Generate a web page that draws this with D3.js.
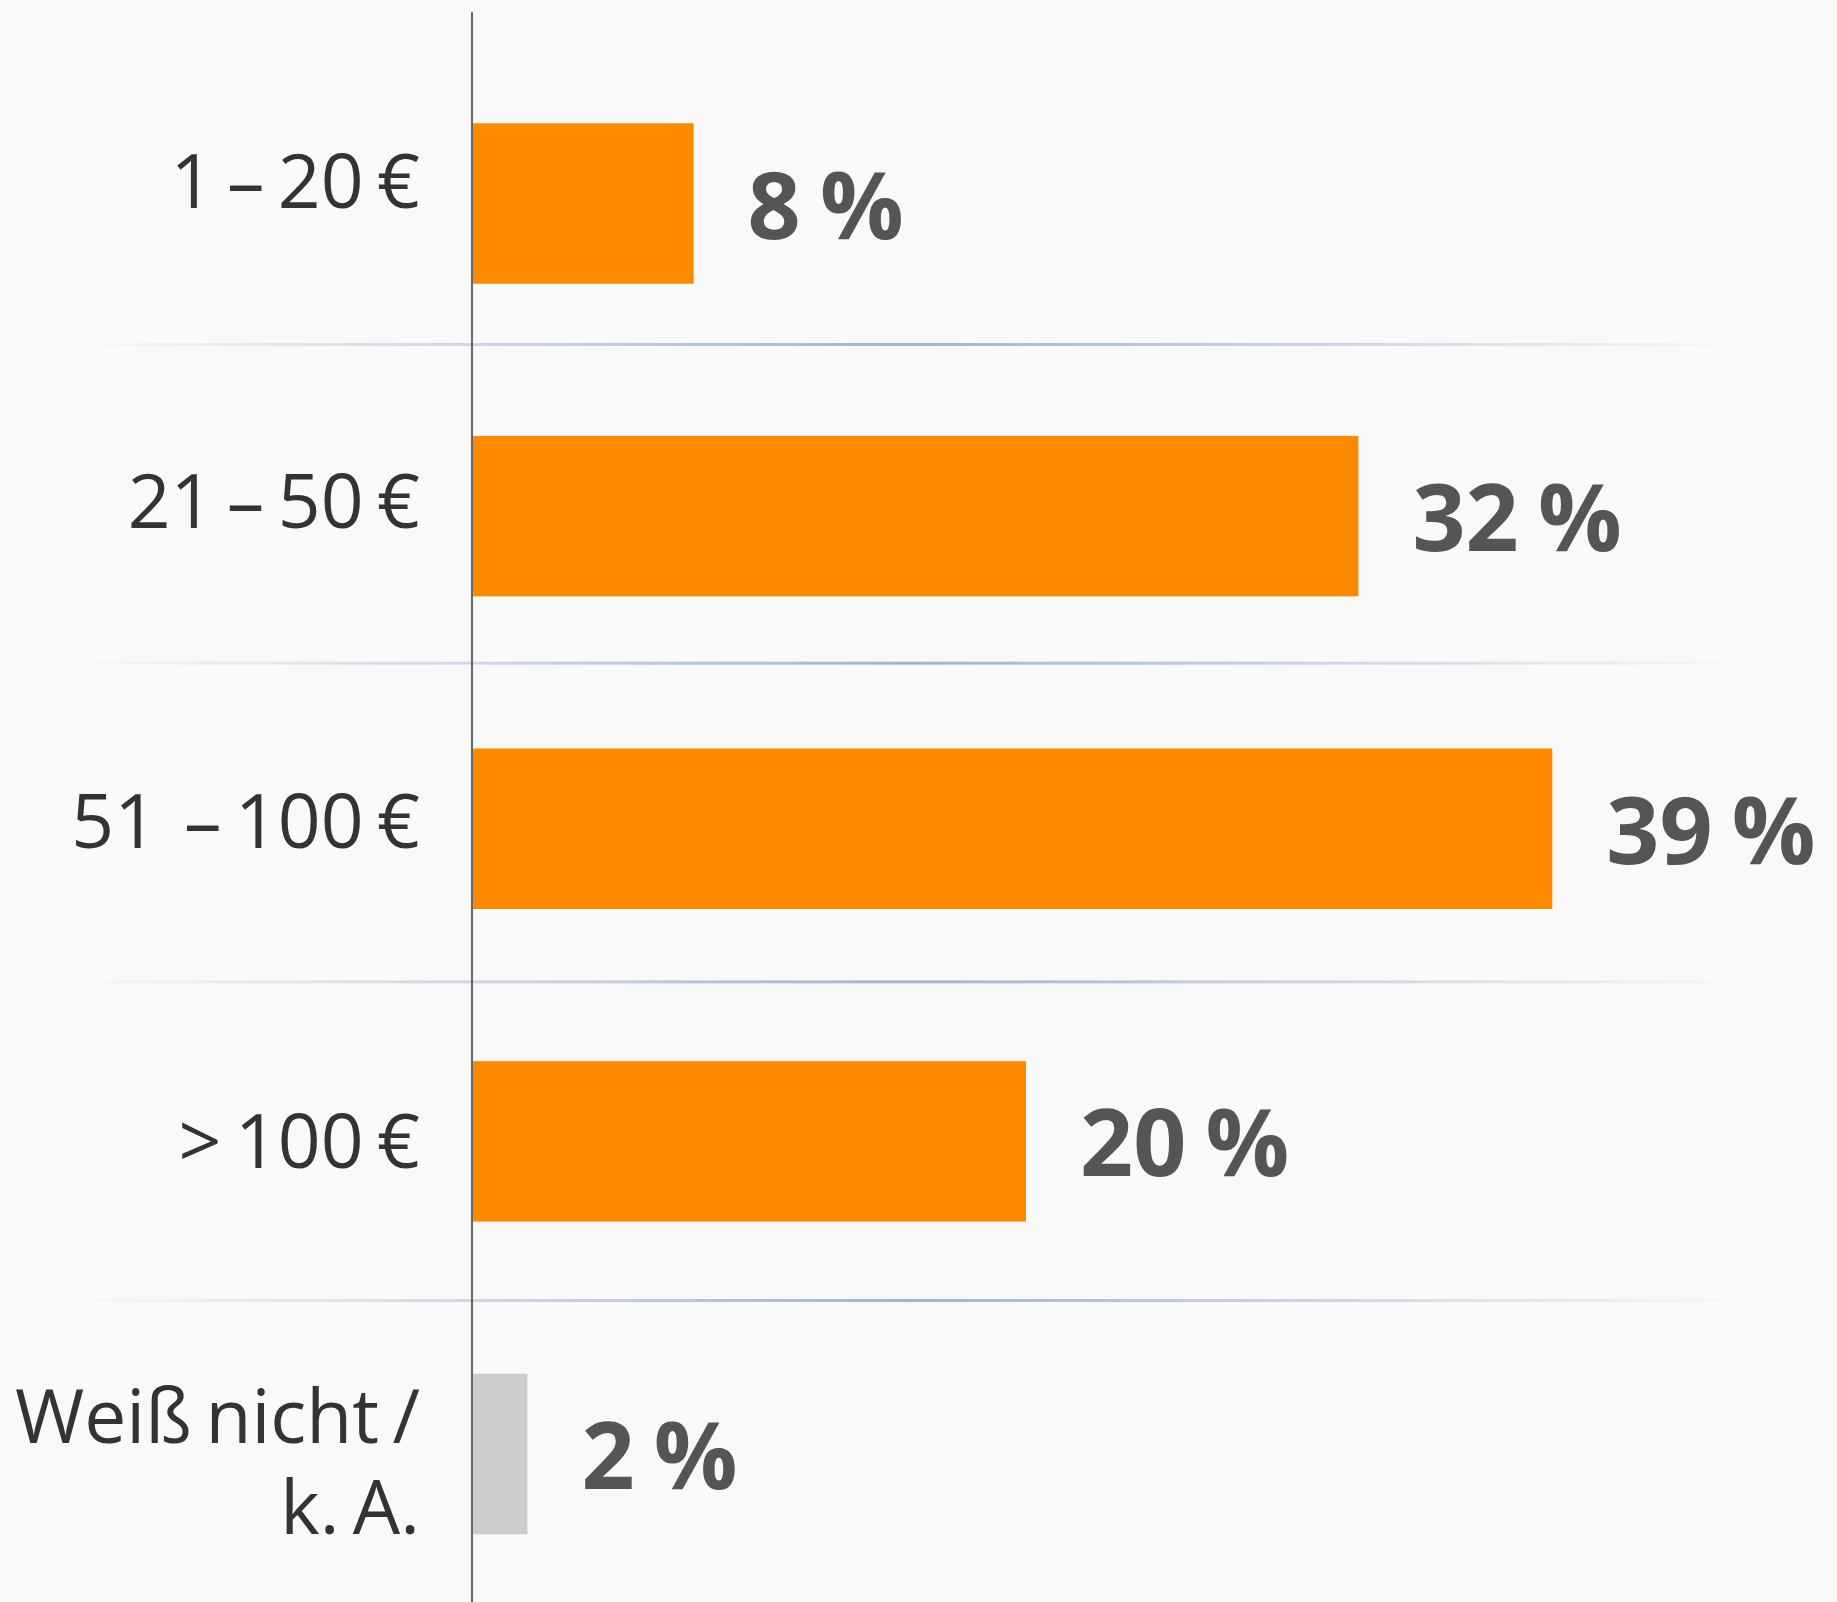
<!DOCTYPE html>
<html lang="de">

<head>
    <meta charset="UTF-8">
    <title>Ausgaben</title>
    <script src="https://d3js.org/d3.v7.min.js"></script>
    <style>
        body {
            margin: 0;
            background: #f9f9f9;
        }

        text {
            font-family: "Open Sans", sans-serif;
        }

        .cat {
            fill: #333;
            font-size: 75px;
            white-space: pre;
            word-spacing: -6px;
        }

        .val {
            fill: #555;
            font-size: 93px;
            font-weight: bold;
            word-spacing: -5px;
        }
    </style>
</head>

<body>

    <svg id="chart"></svg>

    <script>
        const categories = ["1 – 20 €", "21 – 50 €", "51  – 100 €", "> 100 €", "Weiß nicht /\nk. A."];
        const values = [8, 32, 39, 20, 2];
        const barColors = ["#ff8a00", "#ff8a00", "#ff8a00", "#ff8a00", "#cccccc"];

        const width = 1837, height = 1602;

        const svg = d3.select("#chart")
            .attr("width", width)
            .attr("height", height);

        const x = d3.scaleLinear().domain([0, 40]).range([472, 1580]);
        // bar centres, label rows and separators use slightly different spacing
        const yBar = d3.scalePoint().domain(categories).range([203.5, 1454]);
        const barH = 160.5;
        const yRow = d3.scaleBand().domain(categories).range([21, 1621]);
        const yGrid = d3.scaleBand().domain(categories).range([25.8, 1619.2]);

        const grad = svg.append("defs").append("linearGradient")
            .attr("id", "gridGrad")
            .attr("gradientUnits", "userSpaceOnUse")
            .attr("x1", 60).attr("x2", 1756).attr("y1", 0).attr("y2", 0);
        grad.append("stop").attr("offset", 0).attr("stop-color", "#a3b3cd").attr("stop-opacity", 0);
        grad.append("stop").attr("offset", 0.5).attr("stop-color", "#a3b3cd").attr("stop-opacity", 1);
        grad.append("stop").attr("offset", 1).attr("stop-color", "#a3b3cd").attr("stop-opacity", 0);

        // separators between rows
        svg.selectAll(".grid")
            .data(categories.slice(0, -1))
            .join("rect")
            .attr("class", "grid")
            .attr("x", 60)
            .attr("width", 1696)
            .attr("y", d => yGrid(d) + yGrid.bandwidth() - 1.5)
            .attr("height", 3)
            .attr("fill", "url(#gridGrad)");

        svg.selectAll(".bar")
            .data(categories)
            .join("rect")
            .attr("class", "bar")
            .attr("x", x(0))
            .attr("y", d => yBar(d) - barH / 2)
            .attr("width", (d, i) => x(values[i]) - x(0))
            .attr("height", barH)
            .attr("fill", (d, i) => barColors[i]);

        // axis line
        svg.append("line")
            .attr("x1", x(0)).attr("x2", x(0))
            .attr("y1", 12).attr("y2", height)
            .attr("stroke", "#666")
            .attr("stroke-width", 2);

        const lineH = 91;
        svg.selectAll(".cat")
            .data(categories)
            .join("text")
            .attr("class", "cat")
            .attr("text-anchor", "end")
            .each(function (d) {
                const lines = d.split("\n");
                const c = yRow(d) + yRow.bandwidth() / 2;
                const y0 = c + 27 - (lines.length - 1) * lineH / 2;
                d3.select(this).selectAll("tspan")
                    .data(lines)
                    .join("tspan")
                    .attr("x", 420)
                    .attr("y", (l, j) => y0 + j * lineH)
                    .text(l => l);
            });

        svg.selectAll(".val")
            .data(categories)
            .join("text")
            .attr("class", "val")
            .attr("x", (d, i) => x(values[i]) + 54)
            .attr("y", d => yBar(d) + 35)
            .text((d, i) => values[i] + " %");
    </script>
</body>

</html>
